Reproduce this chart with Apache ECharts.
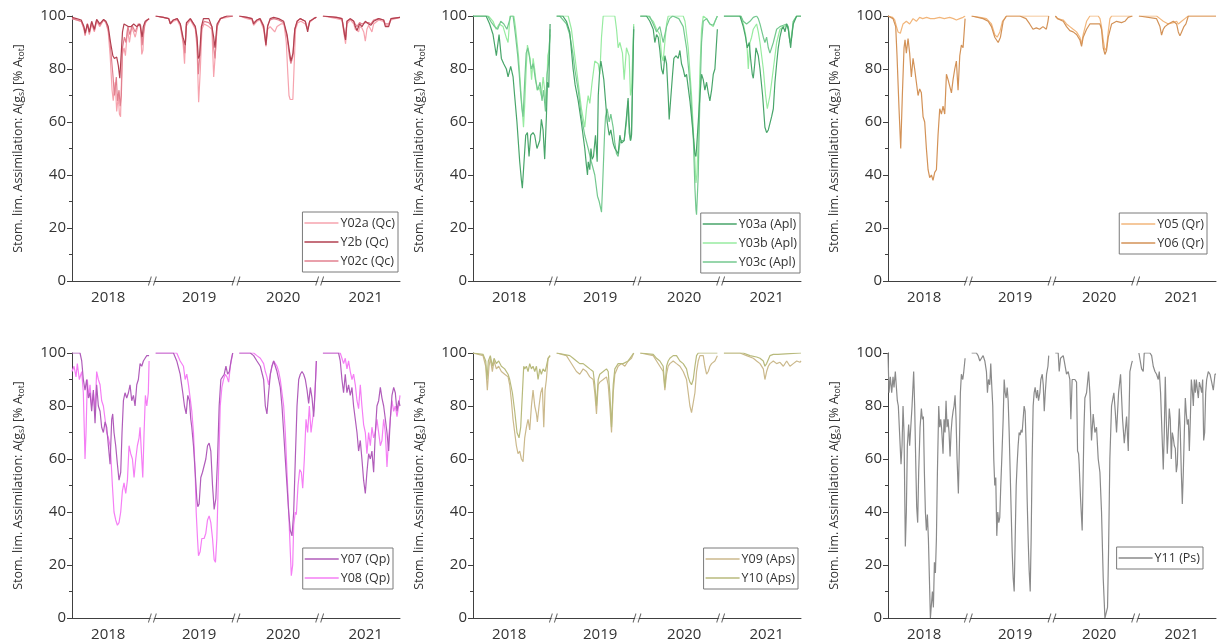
<!DOCTYPE html>
<html><head><meta charset="utf-8">
<script src="https://cdn.jsdelivr.net/npm/echarts@6/dist/echarts.min.js"></script>
<style>html,body{margin:0;padding:0;background:#fff}#c{width:1217px;height:642px}</style>
</head><body><div id="c"></div>
<script>
// ---- tick labels ----
const years = ['2018','2019','2020','2021'];
const yearLabelPos = [47, 165, 274, 381];
// ---- data: each series = [2018, 2019, 2020, 2021], points are [day-of-season (0-100), value %] ----
const Y02a = [
 [[0,99],[6,98.5],[12,98],[15.5,95],[17,92.5],[20,97],[22.5,93],[25.5,97],[29,94],[32,98],[36,96],[41,98.5],[44,97.5],[47,94],[49.5,85],[52,72],[53.5,68],[56,75],[58,64],[60,70],[61.5,63],[63,62],[65,85],[67.5,88],[69.3,85],[72,95],[74.5,90],[77.5,96],[82,92],[86,97],[89,96],[90.5,85.5],[92,87],[93.5,96],[97,98.5],[100,99]],
 [[0,100],[10,99.5],[17,99],[19,97],[23,98],[28,98.5],[32,96],[35.5,90],[37.5,82],[39.4,96],[45,98.5],[51.5,95],[53.7,88],[55.8,67.5],[58,80],[60,95],[63,97],[69,96],[73,95],[75.3,77],[77.5,86],[79.7,96],[84,99],[92.5,99.5],[100,100]],
 [[0,100],[10,99],[16.5,98.5],[18.6,96.5],[23,98],[27,98.5],[31.6,95],[34.6,88.5],[36.8,95],[40,96],[43,95],[46,94],[49,96],[51,95.5],[54,97],[58,97],[61,90],[63,78],[64.5,70],[66,68.5],[69.5,68.5],[71,80],[73,95],[76,97.5],[80,98],[85.7,97],[88.7,95],[91.3,97.5],[96.5,99],[100,99.5]],
 [[0,100],[18,99],[24.7,98.5],[28,92],[29.4,89.5],[31.2,97],[35.5,98.5],[40,97],[42,95],[46.3,94],[47.6,96],[50.6,95.5],[53,94],[55,90.5],[57.1,95],[59.3,96.5],[63.6,94],[65.8,97],[72.3,98.5],[78.8,98],[81,96.5],[85.3,96.5],[88.3,98.5],[100,99.5]]
];
const Y2b = [
 [[0,99.5],[6,99],[12,98.5],[15.5,96],[17,93.5],[20,97],[22.5,94],[25.5,98],[29,95],[32,98.7],[36,97],[41,98.7],[44,98],[47,96],[50,90],[53,85],[55,84],[58,84.5],[60,81.5],[62,76.5],[63.5,76],[65.5,94],[67.5,97],[70,97],[73,96],[76.5,96],[80,97],[84,96],[88,97],[91,92],[92.5,96],[95,98],[100,99]],
 [[0,100],[10,99.5],[17,99],[19,97],[23,98.5],[28,99],[32,97],[35.5,92],[38.5,89],[40,97.5],[45,99],[51.5,96],[53.7,92],[55.4,84],[57,85],[59.3,96],[62,99],[69,99],[73,96],[75.3,92],[77,88],[79.7,97],[84,99],[92.5,100],[100,100]],
 [[0,100],[10,99.5],[16.5,99],[18.6,97],[23,98.5],[27,99],[31.6,96],[34.6,89],[36.8,96],[40,99],[44.6,99.5],[51,99],[57.6,98],[62,93],[65.4,86],[67,83],[69.7,86],[72,95],[75,98],[79,99],[85.7,98],[88.7,94],[91.3,98],[96.5,99],[100,99.5]],
 [[0,100],[18,99.5],[24.7,99],[28,93],[29.4,91],[31.2,98],[35.5,99],[40,98],[42,96],[44.2,94.5],[47.6,97],[50.6,96],[55,98],[59.3,97],[62.3,96.5],[65.8,98],[72.3,99],[78.8,98.5],[81,96],[85.3,96],[88.3,99],[100,99.5]]
];
const Y02c = [
 [[0,99],[6,98.5],[12,98],[15.5,95.5],[17,93],[20,97],[22.5,93.5],[25.5,97.5],[29,94.5],[32,98.5],[36,96.5],[41,98.5],[44,97.5],[47,95],[50,88],[53,78],[55,70],[57.5,77],[59,68],[61,72],[62.5,66],[64,70],[65.5,88],[68,92],[70,90],[72.5,96],[75,93],[78,96.5],[82,94],[86,97],[89,96.5],[91,89],[92.5,93],[95,97.5],[100,99]],
 [[0,100],[10,99.5],[17,99],[19,97.5],[23,98.5],[28,99],[32,97],[35.5,91],[38,86],[39.8,97],[45,99],[51.5,96],[53.7,90],[55.4,78],[57.5,86],[60,96],[63,98],[69,97.5],[73,96],[75.3,88],[77,84],[79.7,96],[84,99],[92.5,100],[100,100]],
 [[0,100],[10,99.5],[16.5,99],[18.6,97.5],[23,98.5],[27,99],[31.6,96.5],[34.6,90],[36.8,96.5],[40,98.5],[44.6,99],[51,98.5],[57.6,97.5],[62,92],[65.4,84],[67,82],[69.7,85],[72,95],[75,98],[79,99],[85.7,98],[88.7,95],[91.3,98],[96.5,99],[100,99.5]],
 [[0,100],[18,99.5],[24.7,99],[28,94],[29.4,92],[31.2,98],[35.5,99],[40,98],[42,97],[44.2,96],[47.6,97.5],[50.6,97],[55,97.5],[59.3,97.5],[62.3,97],[65.8,98.5],[72.3,99],[78.8,98.5],[81,97],[85.3,97],[88.3,99],[100,99.5]]
];
const Y03a = [
 [[0,100],[17,100],[21.6,97],[26,93],[30.3,85],[33.8,93],[36.8,84],[39.8,82],[43.3,80],[45.5,77],[48.9,81],[52,77],[54,70],[57,60],[60.6,45],[62.8,38],[64,35],[66.2,45],[68.4,55],[70.6,56],[72.7,47],[74.9,55],[77.9,56],[80,55],[83,50],[86.6,53],[88.7,61],[90.9,57],[93,46],[95.2,62],[96.5,75],[98.3,73],[100,97]],
 [[0,100],[8,100],[12.7,98],[17,94],[19.2,87],[21.4,80],[24,74],[28,68],[32,60],[36.5,50],[38.5,44],[40,40],[41,45],[43,42],[44.5,50],[46,46],[47.8,47],[50.4,55],[52.6,45],[54,70],[56,80],[57.4,83],[59.1,80],[61.2,76],[63.4,68],[65.6,60],[68.2,55],[70.3,57],[73.3,52],[75.5,50],[79.8,48],[82,55],[84.2,52],[87.6,53],[90.6,62],[92.7,69],[94,60],[95.8,53],[97.1,55],[100,95]],
 [[0,100],[8,100],[12.4,98],[16.8,95],[18.9,90],[21.1,93],[23.2,92],[25.4,87],[27.6,80],[29.7,78],[31.9,85],[34.1,82],[36.2,70],[37.5,61],[39.3,68],[41.9,78],[43.6,84],[46.2,85],[49.2,84],[51.4,87],[53.5,82],[55.7,80],[57.9,77],[60,78],[62.2,73],[64.4,68],[66.5,62],[68.7,55],[70.9,48],[72.2,47],[73,50],[75.2,60],[77.4,70],[79.5,78],[81.7,76],[83.8,72],[86,75],[88.2,71],[90.3,68],[92.5,72],[94.7,78],[96.8,80],[100,95]],
 [[0,100],[20.8,100],[25.1,96],[28.1,92],[30.3,88],[32.9,90],[34.6,84],[36.8,78],[38.1,76.5],[40,82],[41.6,88],[44.6,85],[46.8,80],[50.2,70],[53.2,58],[55.4,56],[57.6,57],[59.7,57],[61.9,62],[64.1,65],[66.2,75],[68.4,82],[70.5,88],[72.7,92],[75,95],[77.1,96],[79.2,94],[81.4,97],[83.5,95],[85.7,90],[86.6,88],[87.9,92],[90,97],[94.4,100],[100,100]]
];
const Y03b = [
 [[0,100],[20,100],[26,98],[30,95],[34,97],[39,96],[43,92],[45.5,90],[48,100],[53,100],[55,96],[59,85],[62,72],[64.5,62],[65.5,58],[67,66],[69,80],[70.6,89],[72,87],[74,84],[76,76],[78,84],[80,80],[83,72],[86,73],[88.7,70],[91,77],[93,72],[95,66],[97,85],[98.5,87],[100,93]],
 [[0,100],[15,100],[19.2,95],[23.5,85],[27.9,75],[32.2,65],[36.5,58],[38.7,65],[40.9,70],[43,67],[46,75],[49.5,83],[53.9,82],[56,78],[58.2,92],[60.4,100],[75.5,100],[77.7,95],[79.8,88],[82,90],[85.4,86],[87.6,76],[90.6,88],[94,85],[95.8,70],[97.1,72],[100,97]],
 [[0,100],[10,100],[16.8,98],[21.1,95],[25.4,93],[27.6,85],[29.7,83],[31.9,90],[34.1,97],[36.2,100],[55.7,100],[58,98],[62.2,88],[66.5,70],[70.9,45],[72.2,37],[73.5,40],[75.2,55],[77.4,80],[79.5,95],[81.7,100],[86,99],[90.3,97],[94.7,96],[97,98],[100,100]],
 [[0,100],[22,100],[25.1,97],[28.1,93],[30.3,87],[31.6,80],[33.8,90],[35.9,92],[38.1,95],[42.4,97],[44.6,94],[46.8,90],[51.1,80],[54.1,70],[56.3,65],[59.7,70],[64.1,80],[68.4,90],[72.7,95],[77.1,96],[81.4,96.5],[83.5,95],[85.7,90],[87.9,93],[90,98],[94.4,100],[100,100]]
];
const Y03c = [
 [[0,100],[19,100],[23,98],[28,96],[32,95],[36,98],[40,97],[44,95],[47,98],[49,100],[52,100],[55,93],[58,85],[60,78],[62,70],[63.5,65],[65,62],[67,75],[69,86],[71,88],[73,85],[75.5,80],[78,82],[81,76],[84,72],[87,75],[89.5,68],[91.5,72],[94,64],[96,78],[98,82],[100,95]],
 [[0,100],[4,100],[12.7,97],[17,93],[21,86],[23.5,80],[28,72],[32.2,62],[36.5,55],[40.9,50],[45,45],[49.5,40],[53,32],[55.2,30],[58.2,26],[59.5,35],[60.4,42],[62.1,55],[63.4,62],[65.6,65],[68.2,60],[70.3,63],[73.3,58],[75.5,52],[77.7,48],[79.8,47],[82,52],[84.2,53],[87.6,53],[90.6,60],[92.7,68],[94,56],[95.8,53],[97.1,55],[100,96]],
 [[0,100],[12,100],[16.8,97],[21.1,94],[25.4,96],[29.7,90],[31.9,93],[34.1,96],[38,99],[42,100],[50,99],[55.7,96],[60,88],[64.4,75],[68.7,55],[70.9,35],[72.2,27],[73,25],[75.2,40],[77.4,70],[79.5,90],[81.7,98],[86,99],[90.3,97],[94.7,96.5],[97,98],[100,100]],
 [[0,100],[22,100],[25.1,98],[29.4,97],[33.8,98],[38.1,99.5],[42.4,100],[44.6,99],[46.8,97],[51.1,92],[53.2,90],[55.4,92],[57.6,88],[59.7,86],[61.9,86],[64.1,90],[68.4,95],[72.7,96],[77.1,96.5],[81.4,97],[83.5,96],[85.7,90],[87.9,92],[90,98],[94.4,100],[100,100]]
];
const Y05 = [
 [[0,100],[6,99.5],[8.7,98.5],[11,96],[13,94],[16,93.5],[19.5,97],[23.8,98],[28.1,97],[32.5,99],[36.8,98],[41,99.5],[45,99],[50,99.5],[55,99],[60,99],[67,99.5],[73,99],[80,99.5],[85,99],[88.7,98.5],[93,99],[97.4,99.5],[100,100]],
 [[0,100],[10.6,99.5],[19.2,99],[25.7,97],[30,93],[33.1,92],[36.6,94],[40,98],[45.2,100],[100,100]],
 [[0,100],[3,99],[10.3,98.5],[14.6,97],[18.9,96],[23.2,95],[27.6,94],[31.9,92],[34.1,89.5],[36.2,93],[40.6,98],[44.9,100],[55.7,100],[58,99],[60,96],[62.2,91],[64.4,87],[66.5,88],[68.7,94],[70.9,99],[73.1,100],[100,100]],
 [[0,100],[22.9,100],[27.3,99],[31.6,98],[38.1,97],[44.6,97.5],[48.9,98],[51.1,97],[55.4,98],[59.7,99],[64.1,100],[100,100]]
];
const Y06 = [
 [[0,100],[6.5,99],[10,96],[11.7,85],[14.3,65],[16.5,50],[18.6,70],[20.8,88],[22.1,91],[23.8,86],[26,91.5],[28.1,86],[30.3,77],[32.5,84],[34.6,80],[36.8,75],[39,70],[41.1,72.5],[43.3,71],[45.5,62],[47.6,60],[49.8,50],[52,42],[54.1,39],[56.3,40],[58.4,38],[60.6,41],[62.8,42],[64.9,55],[67.1,65],[69.3,63],[71.4,66],[73.6,63],[75.8,78],[77.9,76],[80.1,76],[82.3,71],[84.4,76],[86.6,80],[88.7,83],[90.9,72],[93.1,85],[95.2,89],[97.4,88],[100,99]],
 [[0,100],[14.9,99],[21.4,98],[25.7,96],[30,92],[34.4,90],[37.4,92],[40.9,98],[45.2,100],[62.5,100],[70.5,99],[75.3,97],[79.6,95],[83.9,95.5],[88.2,95],[92.5,96],[96.9,95],[99,98],[100,100]],
 [[0,100],[3,99],[10.3,98],[14.6,96],[18.9,94.5],[23.2,94],[27.6,93],[31.9,91],[34.1,88.5],[36.2,92],[40.6,95],[44.9,97],[57.9,97],[60,95],[62.2,88],[64.4,85.5],[66.5,87],[68.7,92],[73.1,97],[79.5,98],[86,97.5],[90.3,98],[94.6,99.5],[100,100]],
 [[0,100],[22.9,99],[27.3,96],[29.4,92.8],[31.6,95],[33.8,96],[38.1,97],[44.6,98],[48.9,97],[51.1,94],[53.2,92.5],[55.4,94],[58.4,96],[61,97],[64.1,100],[100,100]]
];
const Y07 = [
 [[0,100],[10.4,100],[12.6,97],[14.7,90],[16.9,86],[19,90],[21.2,83],[23.4,85],[25.5,78],[27.7,86],[29.9,73.5],[32,88],[34.2,80],[36.4,78],[38.5,72],[40.7,70],[42.9,74],[45,72],[47.2,65],[49.4,58],[51.5,75],[52.8,77],[54.5,70],[56.7,65],[58.9,58],[61,52],[63.2,55],[64.9,70],[66.7,82],[68.8,85],[71,83],[73.2,85],[75.3,88],[77.5,82],[79.7,84],[81.8,80],[84,88],[86.1,90],[88.3,96],[90.5,95],[92.6,97],[94.8,98],[97,99],[100,99]],
 [[0,100],[23.1,100],[27.4,97],[31.8,92],[35.2,85],[37.4,80],[39.6,77],[41.7,84],[43.9,82],[45.6,75],[46.9,72],[49.1,65],[51.3,55],[53.4,45],[54.7,42],[56.4,43],[58.6,53],[60.8,55],[62.9,55],[65.1,60],[67.3,65],[69.4,66],[71.6,63],[73.8,50],[75.9,41],[78.1,45],[80.3,60],[82.4,80],[84.6,90],[86.8,91],[89,92],[91.2,95],[93.4,92],[95.6,93],[97.8,97],[100,100]],
 [[0,100],[14.3,100],[18.6,99],[22.9,97],[27.3,95],[31.6,90],[33.8,80],[35.9,77],[38.1,85],[40.3,92],[42.4,95],[44.6,97],[46.8,97],[48.9,93],[51.1,90],[53.2,87],[55.4,80],[57.6,70],[59.7,60],[61.9,50],[64.1,40],[66.2,33],[68.4,31],[70.6,40],[72.7,60],[74.9,80],[77.1,90],[79.2,92],[81.4,93],[83.5,92],[85.7,90],[87.9,86],[90,81],[92.2,87],[94.4,83],[96.5,76],[98.5,87],[100,97]],
 [[0,100],[20.3,100],[22.5,97],[24.7,90],[26.8,85],[29,92],[31.2,85],[33.3,88],[35.5,84],[37.7,87],[39.8,80],[42,75],[44.2,70],[46.3,63],[48.5,67],[50.6,60],[52.8,52],[55,47],[57.1,55],[59.3,62],[61.5,60],[63.6,63],[65.8,55],[68,70],[70.1,80],[72.3,82],[74.5,87],[76.6,83],[78.8,80],[81,75],[83.1,70],[85.3,63],[87.4,75],[89.6,84],[91.8,87],[93.9,85],[96.1,78],[98.3,82],[100,80]]
];
const Y08 = [
 [[0,93],[2.6,95],[5.2,91],[6.9,96],[9.5,90],[12.6,93],[14.7,85],[16.9,60],[18.2,70],[19.9,90],[21.6,83],[23.4,88],[25.5,80],[27.7,85],[29.9,78],[32,93],[34.2,90],[36.4,88],[38.5,82],[40.7,80],[42.9,75],[45,70],[47.2,68],[49.4,65],[50.6,60],[52.4,50],[54.5,40],[56.7,37],[58.9,35],[61,36],[63.2,40],[65.4,48],[67.5,51],[69.7,47],[71.9,52],[74,65],[76.2,62],[78.4,60],[80.5,53],[82.7,60],[84.8,65],[87,68],[88.3,72],[90.5,60],[91.8,53],[93.5,70],[95.2,84],[97,80],[99,85],[100,97]],
 [[0,100],[27.4,100],[31.8,97],[36.1,95],[38.3,90],[40.4,92],[42.6,88],[44.8,83],[46.9,78],[49.1,70],[51.3,55],[52.6,40],[54.3,30],[55.6,23.5],[57.7,25],[59.9,30],[62.9,30],[65.1,32],[67.3,37],[69.4,38.5],[71.6,36],[73.8,30],[75.9,22],[77.6,21],[79.4,30],[81.6,55],[83.8,80],[85.9,87],[88.1,90],[90.3,92],[92.5,91],[94.7,89],[96.9,95],[100,100]],
 [[0,100],[18.6,100],[22.9,99],[27.3,98],[31.6,96],[33.8,93],[35.9,91],[38.1,88],[40.3,92],[42.4,95],[44.6,97],[46.8,96],[48.9,95],[51.1,93],[53.2,90],[55.4,85],[57.6,80],[59.7,70],[61.9,55],[64.1,40],[66.2,25],[67.5,16],[69.3,20],[70.6,35],[72.7,40],[74,39],[76.2,50],[78.4,56],[80.5,55],[82.3,49],[84.4,60],[86.6,75],[88.7,70],[90.9,80],[93.1,70],[95.2,75],[97.4,80],[99,90],[100,97]],
 [[0,100],[22.5,100],[24.7,98],[26.8,96],[29,98],[31.2,94],[33.3,97],[35.5,93],[37.7,90],[39.8,92],[42,88],[44.2,82],[46.3,79],[48.5,88],[50.6,80],[52.8,73],[55,70],[57.1,62],[59.3,70],[61.5,65],[63.6,72],[65.8,68],[68,70],[70.1,75],[72.3,70],[74.5,65],[76.6,67],[78.8,75],[81,70],[83.1,57],[85.3,68],[87.4,75],[89.6,82],[91.8,78],[93.9,80],[96.1,76],[98.3,80],[100,84]]
];
const Y09 = [
 [[0,100],[13,99],[16.5,95],[18.6,86],[20.8,95],[22.5,98],[25.1,93],[27.3,97],[30.3,94],[33.3,95],[36.8,93],[41.1,92],[45.5,91],[47.6,88],[49.8,82],[51.9,75],[54.1,70],[56.3,65],[58.4,62],[60.6,63],[62.8,60],[64.9,59],[67.1,68],[69.3,72],[71.4,75],[73.6,71],[75.8,80],[77.9,86],[80.1,80],[82.3,77],[83.5,74],[85.7,80],[87.9,85],[90,87],[91.8,72],[93.5,86],[95.2,90],[97.4,98],[100,99]],
 [[0,100],[12.7,99],[17.1,97],[21.4,95],[25.7,93],[30,92],[34.4,94],[38.7,93],[43,91],[47.4,90],[49.5,85],[51.7,77],[53.9,88],[56,89],[60.4,90],[64.7,91],[66.9,88],[69,80],[71.2,70],[73.4,85],[75.5,92],[79.8,95],[84.2,96],[88.5,95],[92.8,97],[97.1,98],[100,100]],
 [[0,100],[16.8,99],[21.1,97],[25.4,95],[29.7,93],[31.9,86],[34.1,92],[36.2,95],[38.4,96],[42.7,97],[47,96],[51.4,95],[55.7,93],[60,90],[62.2,85],[64.4,80],[66.5,77.5],[68.7,78],[70.9,85],[73,93],[75.2,97],[77.4,99],[81.7,99],[83.8,95],[86,92],[88.2,93],[90.3,95],[92.5,96],[96.8,97],[100,99]],
 [[0,100],[20.8,100],[29.4,99],[38.1,98],[42.4,97],[46.8,96],[51.1,94],[53.2,90],[55.4,93],[57.6,95],[59.7,96],[64.1,97],[68.4,96],[72.7,96.5],[77.1,95],[81.4,97],[85.7,95],[90,96],[94.4,97],[98.7,96.5],[100,97]]
];
const Y10 = [
 [[0,100],[13,99.5],[16.5,97],[18.2,90],[19.9,97],[22.5,99],[25.1,95],[27.3,98],[30.3,96],[33.3,97],[36.8,95],[41.1,94],[45.5,92],[47.6,90],[51.1,85],[54.1,78],[57.1,70],[59.7,68],[61.9,72],[64.1,72],[65.8,95],[67.1,94],[69.3,95],[71.4,93],[73.6,96],[75.8,94],[77.9,95],[80.1,93],[82.3,95],[84.4,90],[86.6,94],[88.7,92],[90.9,94],[93.5,93],[95.2,95],[97.4,98],[100,99]],
 [[0,100],[17.1,99],[21.4,98],[25.7,97],[30,96],[34.4,96],[38.7,95],[43,94],[47.4,93],[49.5,88],[51.7,80],[53.9,90],[56,92],[60.4,93],[64.7,94],[66.9,93],[69,85],[71.2,72],[73.4,88],[75.5,94],[79.8,96],[86.3,96],[92.8,97],[100,100]],
 [[0,100],[16.8,99.5],[21.1,98],[25.4,97],[29.7,95],[31.9,87],[34.1,95],[36.2,97],[38.4,98],[42.7,99],[47,99],[51.4,97],[55.7,96],[60,94],[62.2,91],[64.4,89],[66.5,88],[68.7,90],[70.9,95],[73,99],[75.2,100],[100,100]],
 [[0,100],[25.1,100],[33.8,99],[42.4,98.5],[46.8,98],[51.1,97],[53.2,95],[55.4,96],[59.7,99],[64.1,99.5],[70,99.5],[80,99.7],[100,100]]
];
const Y11 = [
 [[0,100],[1.3,85],[3,91],[4.8,85],[6.5,91],[7.8,87],[9.5,93],[10.8,93],[12.1,82],[13.4,80],[15.2,80],[16.9,58],[18.2,65],[19.5,80],[20.8,70],[22.5,27],[23.8,40],[25.1,65],[26.8,73],[28.1,65],[29.4,65],[31.2,80],[33.3,93],[34.6,80],[35.9,60],[37.2,42],[38.5,36],[39.8,55],[41.6,72],[43.3,79],[44.6,75],[45.9,76],[47.2,55],[48.5,40],[49.8,33],[51.1,39],[52.4,30],[53.7,15],[55,0],[56.3,5],[57.6,10],[58.9,4],[60.2,21],[61.5,17],[62.8,30],[64.1,55],[65.8,80],[67.1,72],[68.4,75],[69.7,71],[71.4,62],[72.7,75],[74,70],[75.3,82],[76.6,72],[77.9,75],[79.2,70],[80.5,61],[81.8,70],[83.1,75],[84.4,78],[85.7,80],[87,84],[88.3,75],[89.6,60],[91.3,47],[92.6,65],[93.9,85],[95.2,92],[97,90],[98.3,93],[100,98]],
 [[0,100],[6.2,100],[8.4,99],[10.6,97],[12.7,98],[14.9,99],[17.1,97],[19.2,93],[20.5,85],[21.8,90],[23.5,88],[24.8,96],[26.2,87],[27.4,80],[28.7,60],[30,50],[31.3,53],[32.6,31],[33.9,40],[35.2,36],[36.5,38],[37.8,50],[39.1,60],[40.9,75],[42.2,90],[43.5,85],[44.8,83],[46.1,87],[47.4,82],[48.7,70],[50,55],[51.3,40],[52.6,25],[53.9,15],[55.2,10],[56.5,30],[57.8,50],[59,58],[60.3,65],[61.6,70],[62.9,69],[64.2,71],[65.5,70],[66.8,75],[68.1,80],[69.4,78],[70.7,65],[72,45],[73.3,30],[74.6,18],[76,10],[77.2,30],[78.5,60],[79.8,80],[81.1,85],[82.4,87],[84.2,83],[85.5,86],[86.8,82],[88.5,85],[89.8,90],[91.6,92],[92.9,88],[94.2,78],[95.5,85],[97.2,92],[99,95],[100,99]],
 [[0,100],[3.8,100],[5.1,93],[6.8,98],[10.3,99],[11.6,97],[14.6,92],[16.8,93],[18.9,90],[20.2,75],[21.9,90],[25.4,90],[27.6,89],[28.9,63],[30.2,62],[31,58],[32.8,45],[34.9,33],[37.1,70],[38.4,83],[40.6,85],[43.2,93],[44.9,85],[47,67],[49.2,77],[51.4,70],[53.5,72],[55.7,60],[57.9,55],[60,40],[62.2,15],[64.4,0],[66.1,0],[67.8,4],[69.1,25],[70.8,60],[73,80],[76,85],[77.8,78],[79.5,70],[82.1,85],[84.7,92],[87.3,75],[89.5,66],[92.5,76],[94.7,63],[96.8,93],[99,96],[100,97]],
 [[0,100],[1.3,100],[3.5,94],[5.6,93],[6.9,100],[14.3,100],[16.5,99],[18.6,95],[20.8,93],[22.9,92],[25.1,90],[26.4,93],[28.1,85],[29.9,70],[31.6,56],[32.9,70],[34.2,91],[35.5,75],[36.8,62],[38.1,70],[39.4,79],[40.7,75],[42,60],[43.3,70],[44.6,68],[45.9,65],[47.2,64],[48.5,55],[49.8,58],[51.1,70],[52.4,79],[53.7,70],[55,55],[56.3,43],[57.6,55],[58.9,70],[60.2,83],[61.5,77],[62.8,73],[64.1,75],[65.4,63],[66.7,75],[68,90],[69.3,86],[70.6,80],[71.9,90],[73.2,85],[74.5,90],[75.8,86],[77.1,83],[78.4,89],[80.1,87],[81.4,85],[82.7,90],[84,67],[85.3,70],[86.6,85],[87.9,90],[90,93],[92.2,92],[94.4,89],[96.5,86],[98.7,92],[100,92]]
];

// ---- layout / style ----
const SEG_W = 100, SEG_GAP = 8.5;
const X_MAX = 4 * SEG_W + 3 * SEG_GAP;
const breakPos = [1, 2, 3].map(i => i * (SEG_W + SEG_GAP) - SEG_GAP / 2);
const FONT = 'Open Sans';
const NAME_FONT = '"Liberation Sans Narrow", "Open Sans"';
const AX = '#404040';

const panels = [
  { left: 72,  top: 16,  legendRight: 819, legendTop: 212,
    legend: ['Y02a (Qc)', 'Y2b (Qc)', 'Y02c (Qc)'],
    series: [['Y02a (Qc)', Y02a, '#f6a3ae'], ['Y02c (Qc)', Y02c, '#e2808f'], ['Y2b (Qc)', Y2b, '#b24050']] },
  { left: 473, top: 16,  legendRight: 417, legendTop: 213,
    legend: ['Y03a (Apl)', 'Y03b (Apl)', 'Y03c (Apl)'],
    series: [['Y03b (Apl)', Y03b, '#97eba0'], ['Y03c (Apl)', Y03c, '#74c88f'], ['Y03a (Apl)', Y03a, '#48a56a']] },
  { left: 888, top: 16,  legendRight: 10, legendTop: 213,
    legend: ['Y05 (Qr)', 'Y06 (Qr)'],
    series: [['Y05 (Qr)', Y05, '#f2b67b'], ['Y06 (Qr)', Y06, '#d39257']] },
  { left: 72,  top: 353, legendRight: 824, legendTop: 548,
    legend: ['Y07 (Qp)', 'Y08 (Qp)'],
    series: [['Y08 (Qp)', Y08, '#f57ef5'], ['Y07 (Qp)', Y07, '#b05cba']] },
  { left: 473, top: 353, legendRight: 419, legendTop: 548,
    legend: ['Y09 (Aps)', 'Y10 (Aps)'],
    series: [['Y09 (Aps)', Y09, '#cbb98c'], ['Y10 (Aps)', Y10, '#b8ba7c']] },
  { left: 888, top: 353, legendRight: 14, legendTop: 547,
    legend: ['Y11 (Ps)'],
    series: [['Y11 (Ps)', Y11, '#8a8a8a']] }
];

function toLine(segs) {
  const out = [];
  segs.forEach((seg, i) => {
    const off = i * (SEG_W + SEG_GAP);
    if (i > 0) out.push([off - SEG_GAP / 2, '-']);
    seg.forEach(p => out.push([off + p[0], p[1]]));
  });
  return out;
}

const option = { animation: false, backgroundColor: '#fff', grid: [], xAxis: [], yAxis: [], legend: [], series: [] };

panels.forEach((p, k) => {
  option.grid.push({ left: p.left, top: p.top, width: 328, height: 265 });
  option.xAxis.push({
    type: 'value', gridIndex: k, min: 0, max: X_MAX,
    axisLine: { show: true, onZero: false, lineStyle: { color: AX, width: 1 } },
    axisTick: { show: false }, splitLine: { show: false },
    axisLabel: {
      show: true, customValues: yearLabelPos, margin: 9,
      color: '#333', fontSize: 15, fontFamily: FONT,
      formatter: v => { const i = yearLabelPos.findIndex(q => Math.abs(q - v) < 0.01); return i >= 0 ? years[i] : ''; }
    }
  });
  option.yAxis.push({
    type: 'value', gridIndex: k, min: 0, max: 100, interval: 20,
    axisLine: { show: true, lineStyle: { color: AX, width: 1 } },
    axisTick: { show: true, inside: false, length: 5, lineStyle: { color: AX } },
    minorTick: { show: true, splitNumber: 2, length: 3, lineStyle: { color: AX } },
    splitLine: { show: false },
    axisLabel: { color: '#333', fontSize: 15, fontFamily: FONT, margin: 6 },
    name: 'Stom. lim. Assimilation: A(g{s|s}) [% A{s|tot}]',
    nameLocation: 'middle', nameGap: 46, nameRotate: 90,
    nameTextStyle: {
      color: '#333', fontSize: 12.5, fontFamily: NAME_FONT, lineHeight: 16,
      rich: { s: { fontSize: 8.5, fontFamily: NAME_FONT, color: '#333', verticalAlign: 'bottom', lineHeight: 14 } }
    }
  });
  option.legend.push({
    orient: 'vertical', right: p.legendRight, top: p.legendTop,
    data: p.legend.map(n => ({ name: n, icon: 'rect' })),
    borderColor: '#7a7a7a', borderWidth: 1, borderRadius: 0,
    padding: [4, 3, 4, 2], itemGap: 5, itemWidth: 34, itemHeight: 1.5,
    textStyle: { color: '#333', fontSize: 12.5, fontFamily: FONT, lineHeight: 14, padding: [0, 0, 0, -3] },
    selectedMode: false
  });
  p.series.forEach(s => {
    option.series.push({
      type: 'line', name: s[0], xAxisIndex: k, yAxisIndex: k,
      data: toLine(s[1]), symbol: 'none', showSymbol: false, connectNulls: false,
      lineStyle: { color: s[2], width: 1.2 }, itemStyle: { color: s[2] }, z: 2
    });
  });
  // axis break marks on x axis
  option.series.push({
    type: 'scatter', xAxisIndex: k, yAxisIndex: k, silent: true, clip: false, z: 4,
    data: breakPos.map(b => [b, 0]), symbol: 'rect', symbolSize: [4, 3],
    itemStyle: { color: '#fff' }
  });
  option.series.push({
    type: 'scatter', xAxisIndex: k, yAxisIndex: k, silent: true, clip: false, z: 5,
    data: breakPos.map(b => [b, 0]), symbol: 'path://M0,10L3,0M5,10L8,0', symbolSize: [8, 9],
    itemStyle: { color: 'transparent', borderColor: AX, borderWidth: 1 }
  });
});

const chart = echarts.init(document.getElementById('c'), null, { renderer: 'canvas' });
chart.setOption(option);
</script>
</body></html>
